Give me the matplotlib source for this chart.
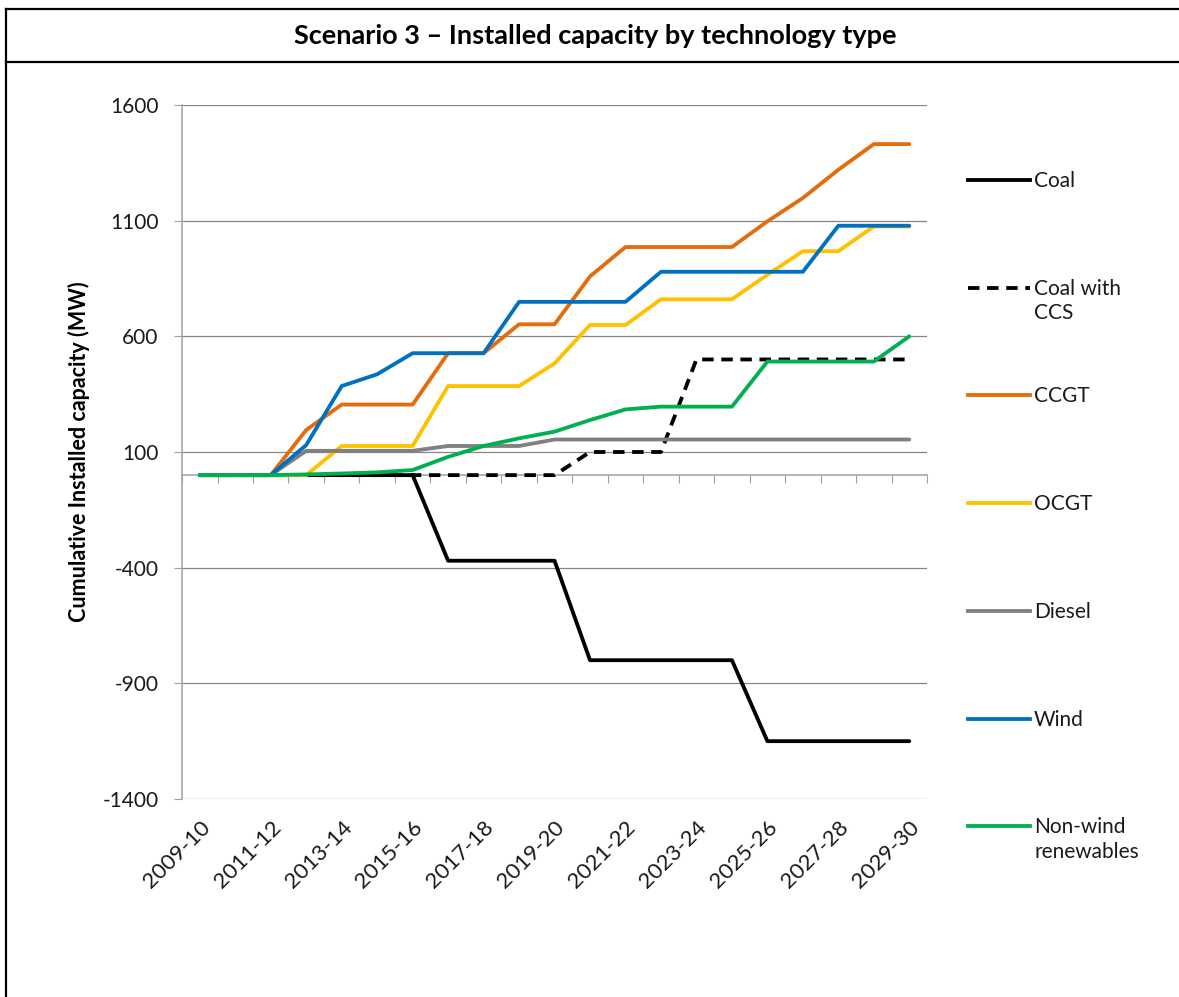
import matplotlib.pyplot as plt
from matplotlib.lines import Line2D

plt.rcParams['font.family'] = ['Lato', 'DejaVu Sans']

# données (MW cumulés)
annees = ['2009-10', '2010-11', '2011-12', '2012-13', '2013-14', '2014-15', '2015-16',
          '2016-17', '2017-18', '2018-19', '2019-20', '2020-21', '2021-22', '2022-23',
          '2023-24', '2024-25', '2025-26', '2026-27', '2027-28', '2028-29', '2029-30']
coal = [0, 0, 0, 0, 0, 0, 0, -370, -370, -370, -370, -800, -800, -800, -800, -800,
        -1150, -1150, -1150, -1150, -1150]
coal_ccs = [0, 0, 0, 0, 0, 0, 0, 0, 0, 0, 0, 100, 100, 100, 500, 500, 500, 500, 500, 500, 500]
ccgt = [0, 0, 0, 195, 305, 305, 305, 527, 527, 652, 652, 859, 986, 986, 986, 986,
        1097, 1198, 1320, 1431, 1431]
ocgt = [0, 0, 0, 0, 126, 126, 126, 385, 385, 385, 483, 649, 649, 760, 760, 760,
        866, 968, 968, 1075, 1075]
diesel = [0, 0, 0, 105, 105, 105, 105, 126, 126, 126, 154, 154, 154, 154, 154, 154,
          154, 154, 154, 154, 154]
wind = [0, 0, 0, 130, 385, 436, 527, 527, 527, 749, 749, 749, 749, 879, 879, 879,
        879, 879, 1078, 1078, 1078]
renouv = [0, 0, 0, 3, 7, 12, 22, 79, 126, 159, 188, 238, 284, 296, 296, 296,
          491, 491, 491, 491, 600]

series = [
    ('Coal', coal, 'black', '-'),
    ('Coal with\nCCS', coal_ccs, 'black', (0, (3, 2))),
    ('CCGT', ccgt, '#E46C0A', '-'),
    ('OCGT', ocgt, '#FFC000', '-'),
    ('Diesel', diesel, '#808080', '-'),
    ('Wind', wind, '#0070C0', '-'),
    ('Non-wind\nrenewables', renouv, '#00B050', '-'),
]

fig = plt.figure(figsize=(11.79, 9.97), dpi=100)
ax = fig.add_axes([0.1544, 0.1986, 0.7863 - 0.1544, 0.8947 - 0.1986])

x = list(range(len(annees)))
for nom, val, coul, style in series:
    ax.plot(x, val, color=coul, linestyle=style, lw=2.75, solid_capstyle='round',
            dash_capstyle='butt', zorder=3)

ax.set_xlim(-0.5, len(annees) - 0.5)
ax.set_ylim(-1400, 1600)
yt = [-1400, -900, -400, 100, 600, 1100, 1600]
ax.set_yticks(yt)
ax.set_yticklabels([str(v) for v in yt], fontsize=15, color='#1a1a1a')
ax.grid(axis='y', color='#868686', lw=0.9)
ax.set_axisbelow(True)
for s in ['top', 'right', 'bottom']:
    ax.spines[s].set_visible(False)
ax.spines['left'].set_color('#a0a0a0')
ax.spines['left'].set_linewidth(1.1)
ax.tick_params(axis='y', direction='out', length=6, color='#a0a0a0', pad=11)

ax.set_xticks(x[::2])
ax.set_xticklabels(annees[::2], rotation=45, ha='right', va='top',
                   rotation_mode='anchor', fontsize=16, color='#1a1a1a')
ax.tick_params(axis='x', length=0, pad=13)
for lab in ax.get_xticklabels():
    lab.set_x(lab.get_position()[0])

# axe des catégories sur la ligne zéro
axe0 = ax.secondary_xaxis(1400 / 3000)
axe0.set_xticks([i - 0.5 for i in range(len(annees) + 1)])
axe0.set_xticklabels([])
axe0.tick_params(direction='out', length=6, color='#a0a0a0')
axe0.spines['bottom'].set_color('#a0a0a0')
axe0.spines['bottom'].set_linewidth(1.1)

ax.set_ylabel('Cumulative Installed capacity (MW)', fontsize=15.5, fontweight='bold',
              labelpad=9)

# légende dessinée à droite
W, H = 1179, 997
for k, (nom, val, coul, style) in enumerate(series):
    yp = 180 + k * 107.7
    fig.add_artist(Line2D([968 / W, 1030 / W], [1 - yp / H, 1 - yp / H], color=coul,
                          linestyle=style, lw=2.75, transform=fig.transFigure))
    fig.text(1034 / W, 1 - (yp - 9) / H, nom, fontsize=15, va='top', ha='left',
             linespacing=1.3, color='#1a1a1a')

# cadre et titre
fig.add_artist(Line2D([6 / W, 6 / W], [0, 1 - 9 / H], color='black', lw=1.6))
fig.add_artist(Line2D([6 / W, 1], [1 - 9 / H, 1 - 9 / H], color='black', lw=1.6))
fig.add_artist(Line2D([6 / W, 1], [1 - 62 / H, 1 - 62 / H], color='black', lw=1.6))
fig.text(595 / W, 1 - 36 / H, 'Scenario 3 \u2013 Installed capacity by technology type',
         fontsize=19.5, fontweight='bold', ha='center', va='center')

fig.savefig('out.png', dpi=100)
